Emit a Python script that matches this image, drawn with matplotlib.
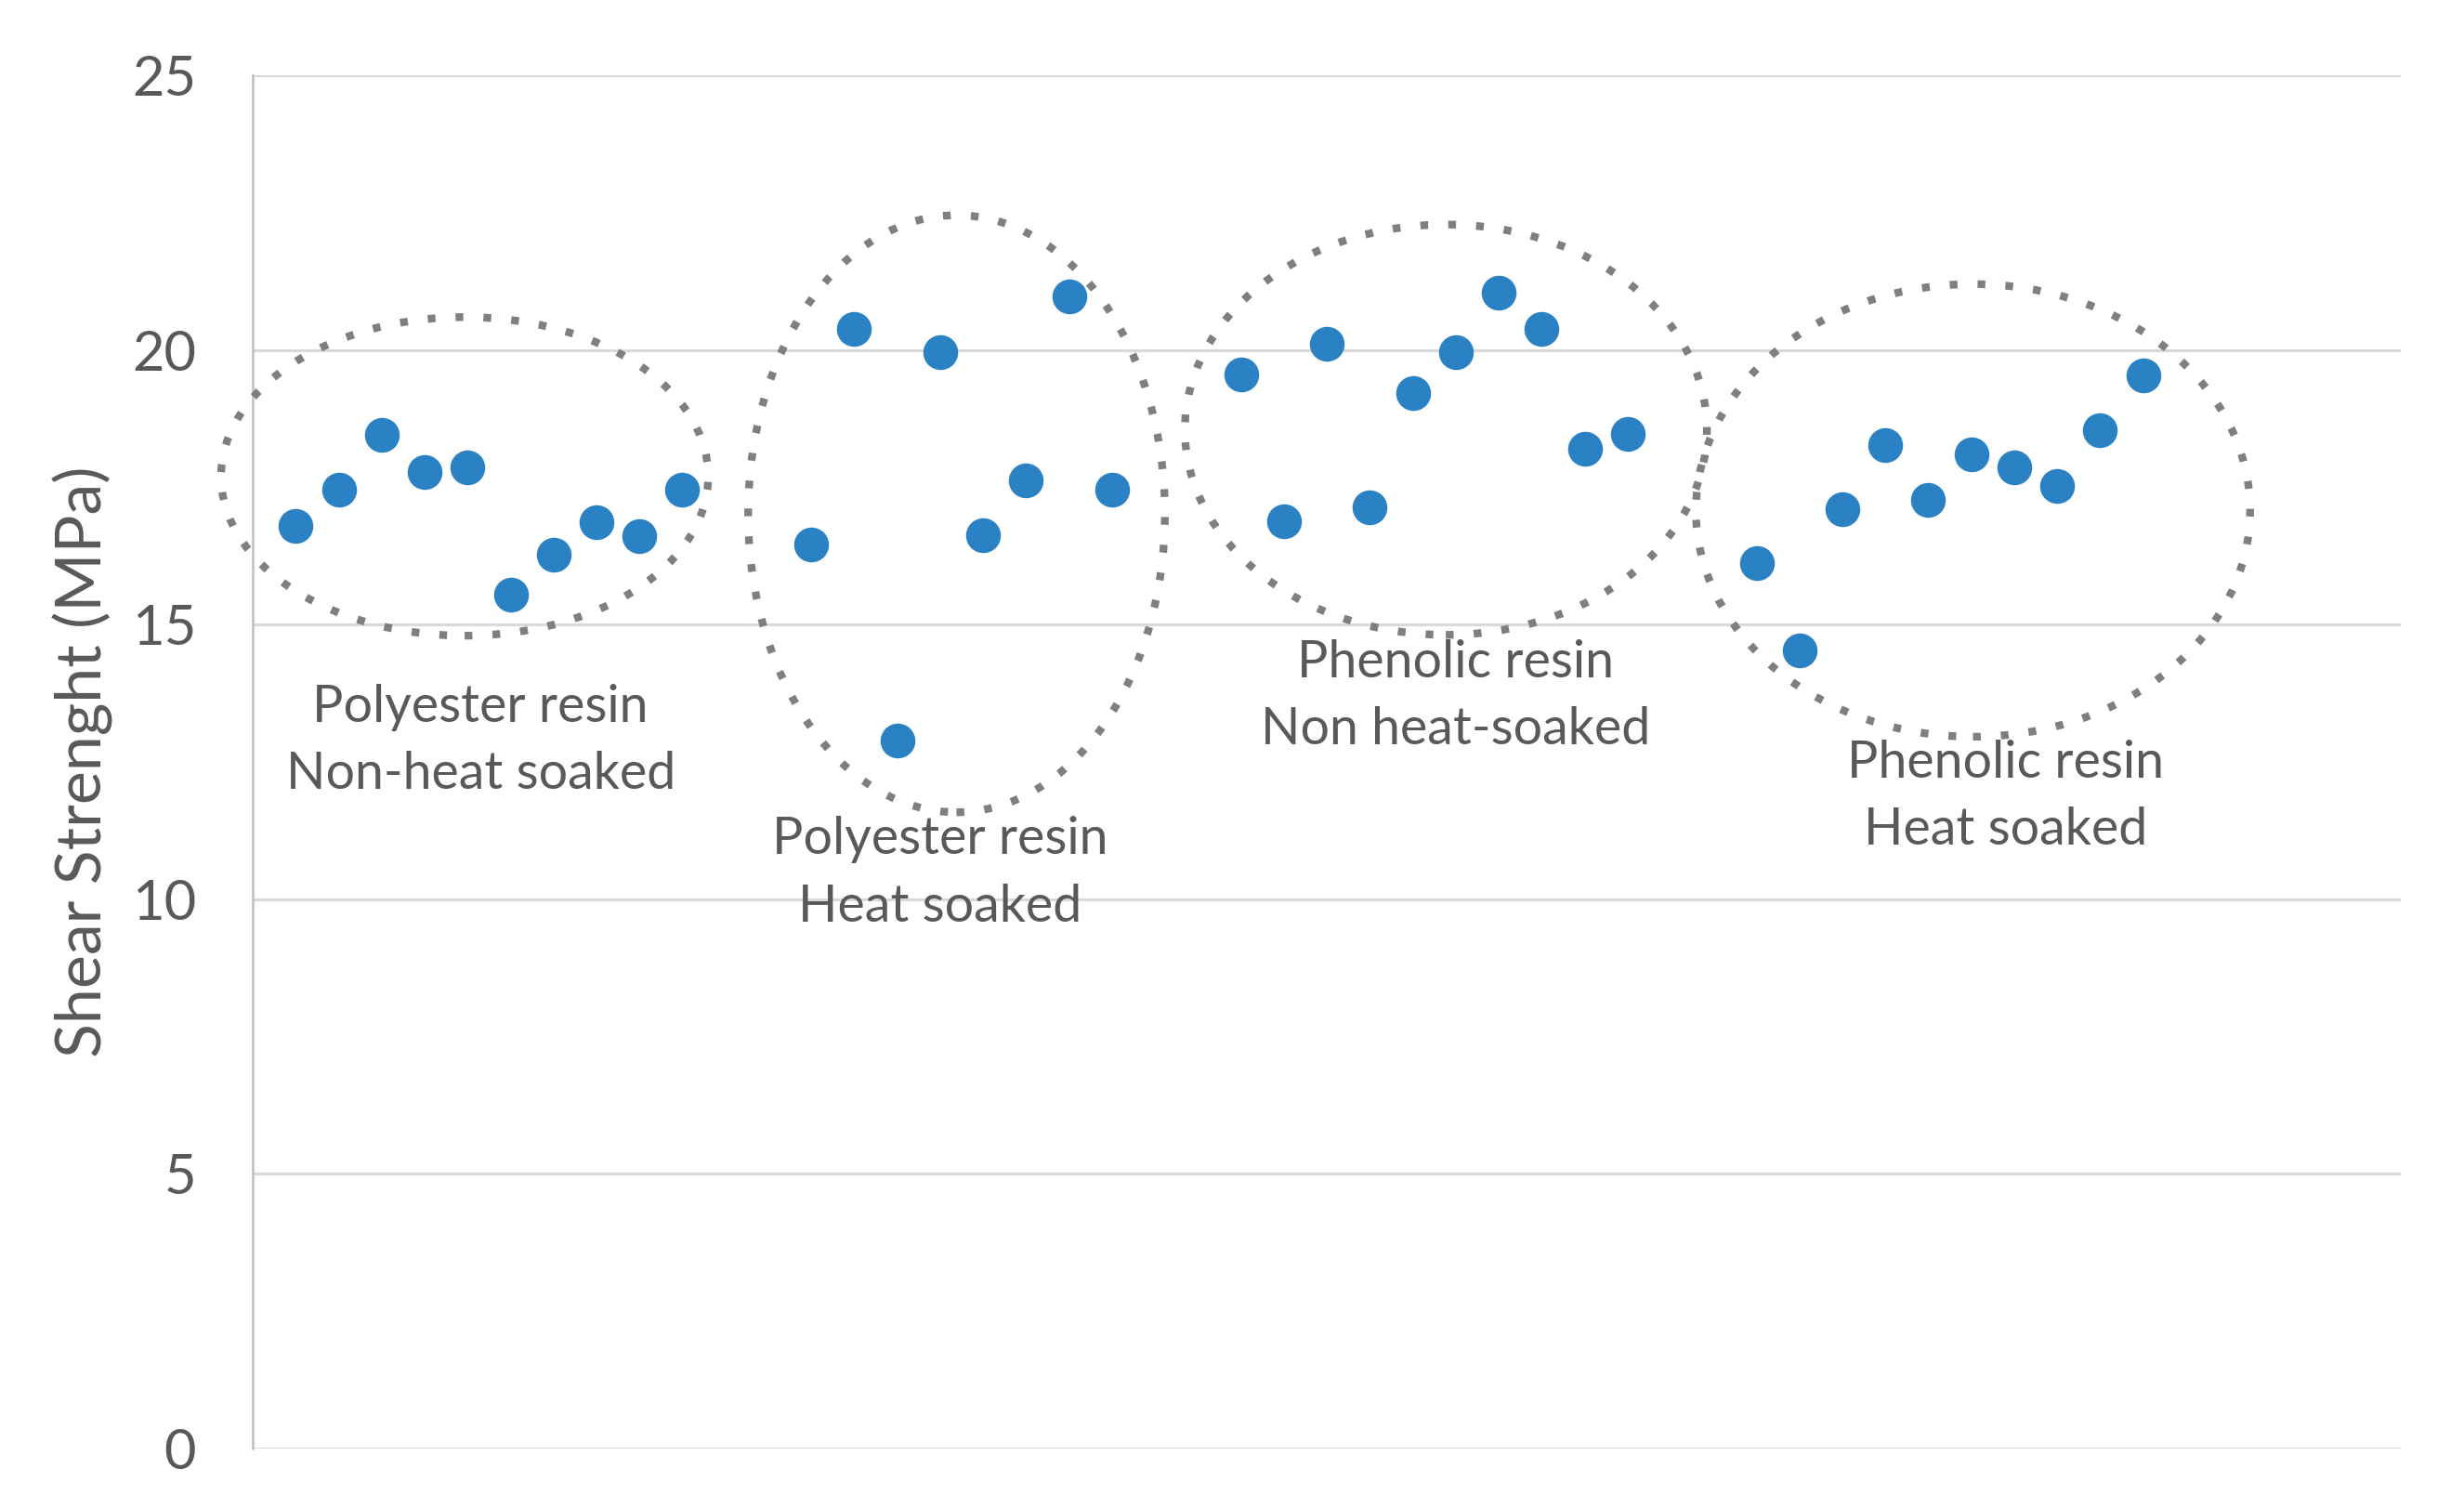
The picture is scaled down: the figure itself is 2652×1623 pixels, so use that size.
import matplotlib
matplotlib.use("Agg")
import matplotlib.pyplot as plt
from matplotlib.patches import Ellipse

# ---- data ----
x_pnh = [1, 2, 3, 4, 5, 6, 7, 8, 9, 10]
y_pnh = [16.79, 17.46, 18.46, 17.78, 17.87, 15.54, 16.28, 16.87, 16.62, 17.46]
x_phs = [13, 14, 15, 16, 17, 18, 19, 20]
y_phs = [16.46, 20.38, 12.89, 19.96, 16.63, 17.63, 20.97, 17.46]
x_fnh = [23, 24, 25, 26, 27, 28, 29, 30, 31, 32]
y_fnh = [19.55, 16.88, 20.12, 17.13, 19.21, 19.96, 21.04, 20.38, 18.21, 18.47]
x_fhs = [35, 36, 37, 38, 39, 40, 41, 42, 43, 44]
y_fhs = [16.12, 14.53, 17.10, 18.27, 17.27, 18.10, 17.87, 17.53, 18.54, 19.54]

group_labels = ["Polyester resin\nNon-heat soaked",
                "Polyester resin\nHeat soaked",
                "Phenolic resin\nNon heat-soaked",
                "Phenolic resin\nHeat soaked"]
label_pos = [(5.3, 12.88), (16.0, 10.47), (28.0, 13.7), (40.8, 11.87)]
# ellipse (center x, center y, width, height)
ellipses = [(4.93, 17.70, 11.34, 5.80),
            (16.38, 17.02, 9.70, 10.87),
            (27.77, 18.55, 12.15, 7.47),
            (40.04, 17.08, 12.90, 8.24)]

y_ticks = [0, 5, 10, 15, 20, 25]
y_label = "Shear Strenght (MPa)"

# ---- figure ----
plt.rcParams['font.family'] = ['Lato', 'DejaVu Sans']
fig = plt.figure(figsize=(26.52, 16.23), dpi=100)
ax = fig.add_axes([0.1026, 0.0394, 0.9744 - 0.1026, 0.950 - 0.0394])

blue = '#2A81C3'
text_col = '#595959'
for xs, ys in [(x_pnh, y_pnh), (x_phs, y_phs), (x_fnh, y_fnh), (x_fhs, y_fhs)]:
    ax.plot(xs, ys, linestyle='none', marker='o', markersize=27,
            markerfacecolor=blue, markeredgecolor='none', zorder=3, clip_on=False)

for (cx, cy, w, h) in ellipses:
    e = Ellipse((cx, cy), w, h, fill=False, edgecolor='#7F7F7F', linewidth=6,
                linestyle=(0, (1.0, 2.6)), zorder=4, clip_on=False)
    ax.add_patch(e)

for txt, (tx, ty) in zip(group_labels, label_pos):
    ax.text(tx, ty, txt, ha='center', va='center', fontsize=40, color=text_col,
            linespacing=1.52, zorder=5)

ax.set_xlim(0, 50)
ax.set_ylim(0, 25)
ax.set_yticks(y_ticks)
ax.set_xticks([])
ax.yaxis.grid(True, color='#D9D9D9', linewidth=2.2)
ax.set_axisbelow(True)
ax.tick_params(axis='y', length=0, pad=44, labelsize=43, labelcolor=text_col)
for s in ['top', 'right', 'bottom']:
    ax.spines[s].set_visible(False)
ax.spines['left'].set_color('#BFBFBF')
ax.spines['left'].set_linewidth(1.8)
ax.set_ylabel(y_label, fontsize=49, color=text_col, labelpad=14)

fig.savefig('out.png', dpi=100, facecolor='white')
